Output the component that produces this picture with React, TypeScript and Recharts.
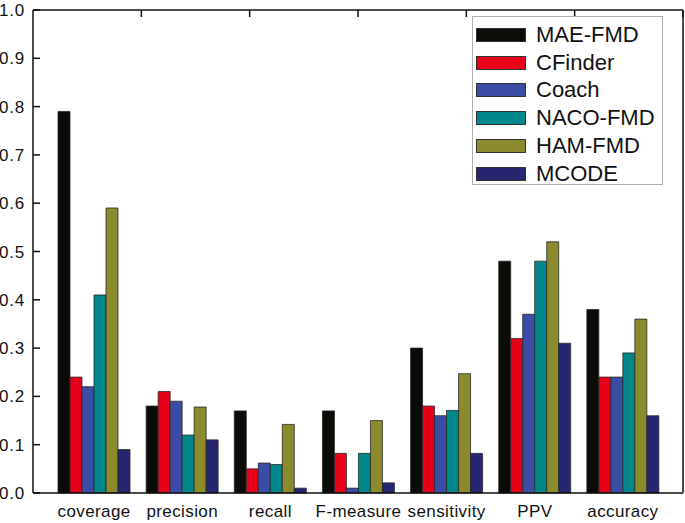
import React from 'react'
import { BarChart, Bar, XAxis, YAxis } from 'recharts'

const CATEGORIES = ['coverage', 'precision', 'recall', 'F-measure', 'sensitivity', 'PPV', 'accuracy']

const MAE_FMD = [0.79, 0.18, 0.17, 0.17, 0.3, 0.48, 0.38]
const CFINDER = [0.24, 0.21, 0.05, 0.082, 0.18, 0.32, 0.24]
const COACH = [0.22, 0.19, 0.062, 0.01, 0.16, 0.37, 0.24]
const NACO_FMD = [0.41, 0.12, 0.059, 0.082, 0.171, 0.48, 0.29]
const HAM_FMD = [0.59, 0.178, 0.142, 0.15, 0.247, 0.52, 0.36]
const MCODE = [0.09, 0.11, 0.01, 0.021, 0.082, 0.31, 0.16]

const Y_TICKS = [0, 0.1, 0.2, 0.3, 0.4, 0.5, 0.6, 0.7, 0.8, 0.9, 1.0]
const RIGHT_TICKS = [0.2, 0.4, 0.6, 0.8]
const TOP_TICKS = [1, 2, 3, 4, 5, 6]

const SERIES = [
  { key: 'MAE-FMD', values: MAE_FMD, color: '#0b0b08' },
  { key: 'CFinder', values: CFINDER, color: '#e8001b' },
  { key: 'Coach', values: COACH, color: '#3a4ca6' },
  { key: 'NACO-FMD', values: NACO_FMD, color: '#00878a' },
  { key: 'HAM-FMD', values: HAM_FMD, color: '#8b8a2c' },
  { key: 'MCODE', values: MCODE, color: '#25266f' },
]

const data = CATEGORIES.map((name, i) => {
  const row: Record<string, any> = { name }
  SERIES.forEach((s) => {
    row[s.key] = s.values[i]
  })
  return row
})

const FONT = '"Liberation Sans", Arial, sans-serif'
const AXIS = { stroke: '#111', strokeWidth: 1.5 }

function LegendBox() {
  return (
    <div
      style={{
        position: 'absolute',
        left: 472,
        top: 16,
        width: 191,
        height: 169,
        border: '1px solid #b0b0b0',
        background: '#fff',
        boxSizing: 'border-box',
        paddingTop: 4,
        fontFamily: FONT,
      }}
    >
      {SERIES.map((s) => (
        <div key={s.key} style={{ display: 'flex', alignItems: 'center', height: 27.8 }}>
          <div
            style={{
              width: 50,
              height: 14,
              marginLeft: 3,
              marginRight: 10,
              background: s.color,
              border: '1px solid #333',
              boxSizing: 'border-box',
            }}
          />
          <span style={{ fontSize: 22, color: '#111', lineHeight: '22px' }}>{s.key}</span>
        </div>
      ))}
    </div>
  )
}

export default function App() {
  return (
    <div style={{ position: 'absolute', left: 0, top: 0, width: 685, height: 523, background: '#fff' }}>
      <BarChart
        width={685}
        height={523}
        data={data}
        margin={{ top: 10, right: 2, left: 0, bottom: 0 }}
        barGap={0}
        barCategoryGap={8}
      >
        <XAxis
          dataKey="name"
          xAxisId="bottom"
          height={30}
          padding={{ left: 17, right: 16 }}
          tickLine={false}
          axisLine={AXIS}
          tick={{ fill: '#111', fontSize: 17, fontFamily: FONT, letterSpacing: 0.4 }}
          tickMargin={6}
          interval={0}
        />
        <XAxis
          xAxisId="top"
          orientation="top"
          type="number"
          domain={[0, 6.656]}
          allowDataOverflow
          ticks={TOP_TICKS}
          height={1}
          mirror
          tickSize={7}
          tickMargin={0}
          tickLine={AXIS}
          axisLine={AXIS}
          tickFormatter={() => ''}
        />
        <YAxis
          yAxisId="left"
          width={33}
          domain={[0, 1]}
          ticks={Y_TICKS}
          interval={0}
          tickSize={-7}
          tickMargin={15}
          tickLine={AXIS}
          axisLine={AXIS}
          tick={{ fill: '#111', fontSize: 17, fontFamily: FONT, letterSpacing: 0.8 }}
          tickFormatter={(v: number) => v.toFixed(1)}
        />
        <YAxis
          yAxisId="right"
          orientation="right"
          width={1}
          domain={[0, 1]}
          ticks={RIGHT_TICKS}
          interval={0}
          mirror
          tickSize={8}
          tickMargin={0}
          tickLine={AXIS}
          axisLine={AXIS}
          tickFormatter={() => ''}
        />
        {SERIES.map((s) => (
          <Bar
            key={s.key}
            dataKey={s.key}
            xAxisId="bottom"
            yAxisId="left"
            fill={s.color}
            stroke="#2a2a2a"
            strokeWidth={0.8}
            isAnimationActive={false}
          />
        ))}
      </BarChart>
      <LegendBox />
    </div>
  )
}
